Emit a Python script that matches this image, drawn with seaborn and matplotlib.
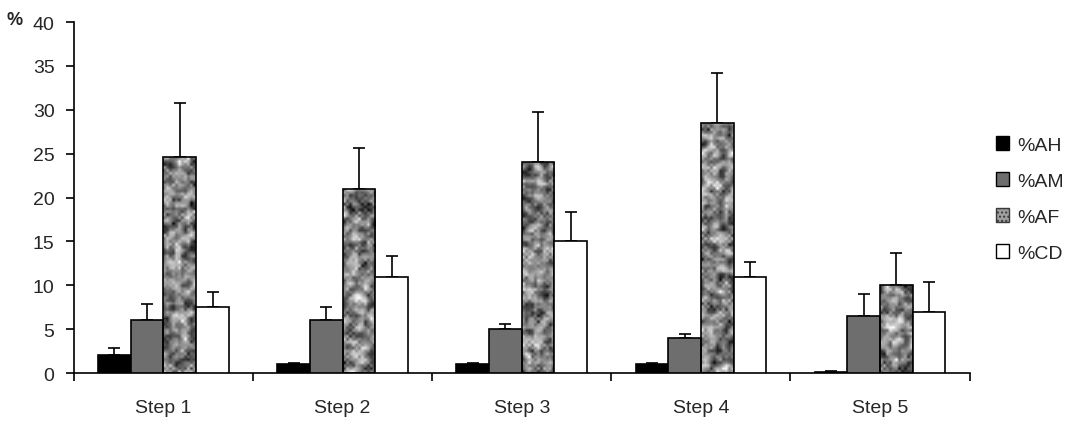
import numpy as np
import pandas as pd
import seaborn as sns
import matplotlib.pyplot as plt
from matplotlib.patches import Patch

# --------------------
# Data
# --------------------
STEPS = ["Step 1", "Step 2", "Step 3", "Step 4", "Step 5"]
SERIES = ["%AH", "%AM", "%AF", "%CD"]

AH = [2.1, 1.0, 1.0, 1.0, 0.15]
AM = [6.0, 6.0, 5.0, 4.0, 6.5]
AF = [24.6, 21.0, 24.0, 28.5, 10.0]
CD = [7.5, 11.0, 15.0, 11.0, 7.0]

AH_ERR = [0.8, 0.2, 0.2, 0.2, 0.05]
AM_ERR = [1.9, 1.5, 0.6, 0.5, 2.5]
AF_ERR = [6.2, 4.6, 5.8, 5.7, 3.7]
CD_ERR = [1.7, 2.3, 3.3, 1.7, 3.4]

COLORS = {"%AH": "#000000", "%AM": "#6e6e6e", "%AF": "#8c8c8c", "%CD": "#ffffff"}


def blotches(rng, ny, nx):
    # isotropic blurred noise, used only as a fill texture
    n = rng.random((ny, nx))
    out = n.copy()
    for dy, dx in [(1, 0), (-1, 0), (0, 1), (0, -1)]:
        out += np.roll(np.roll(n, dy, 0), dx, 1)
    return out / 5


# --------------------
# Main plotting logic
# --------------------
def main():
    sns.set_style("white")
    plt.rcParams["font.family"] = ["Liberation Sans", "DejaVu Sans"]

    values = [AH, AM, AF, CD]
    errors = [AH_ERR, AM_ERR, AF_ERR, CD_ERR]
    rows = []
    for name, vals, errs in zip(SERIES, values, errors):
        for step, v, e in zip(STEPS, vals, errs):
            rows.append({"step": step, "series": name, "value": v, "err": e})
    df = pd.DataFrame(rows)

    fig = plt.figure(figsize=(10.87, 4.27), dpi=100)
    ax = fig.add_axes([0.068, 0.124, 0.824, 0.822])

    sns.barplot(data=df, x="step", y="value", hue="series", order=STEPS,
                hue_order=SERIES, palette=COLORS, width=0.73, errorbar=None,
                edgecolor="black", linewidth=1.2, legend=False, ax=ax, zorder=3)

    # bars are stored hue-major: series 0 for all steps, then series 1...
    bars = [p for p in ax.patches][:len(df)]
    rng = np.random.default_rng(7)
    for i, bar in enumerate(bars):
        s = i // len(STEPS)
        k = i % len(STEPS)
        x0, w, h = bar.get_x(), bar.get_width(), bar.get_height()
        xc = x0 + w / 2
        ax.errorbar(xc, h, yerr=[[0], [errors[s][k]]], fmt="none",
                    ecolor="black", elinewidth=1.2, capsize=4.3,
                    capthick=1.2, zorder=2)
        if SERIES[s] == "%AF":
            ny = max(int(h * 3), 4)
            img = ax.imshow(blotches(rng, ny, 11), cmap="gray", vmin=0.15,
                            vmax=0.85, extent=(x0, x0 + w, 0, h), aspect="auto",
                            interpolation="bilinear", zorder=2.5)
            img.set_clip_path(bar)
            bar.set_facecolor("none")

    ax.set_xlim(-0.5, 4.5)
    ax.set_ylim(0, 40)
    ax.set_yticks(range(0, 41, 5))
    ax.set_xlabel("")
    ax.set_ylabel("")
    sns.despine(ax=ax)
    for sp in ["left", "bottom"]:
        ax.spines[sp].set_color("black")
        ax.spines[sp].set_linewidth(1.2)

    ax.set_xticks(np.arange(-0.5, 5, 1), minor=True)
    ax.tick_params(axis="x", which="major", length=0, pad=19, labelsize=14)
    ax.tick_params(axis="x", which="minor", length=6, width=1.2,
                   direction="out", bottom=True, color="black")
    ax.tick_params(axis="y", length=6, width=1.2, direction="out",
                   left=True, pad=8, labelsize=14, color="black")

    fig.text(0.006, 0.953, "%", fontsize=13, fontweight="bold", va="center")

    handles = [
        Patch(facecolor="#000000", edgecolor="black", label="%AH"),
        Patch(facecolor="#6e6e6e", edgecolor="black", label="%AM"),
        Patch(facecolor="#a0a0a0", edgecolor="#3a3a3a", hatch="....", label="%AF"),
        Patch(facecolor="#ffffff", edgecolor="black", label="%CD"),
    ]
    fig.legend(handles=handles, loc="center left", bbox_to_anchor=(0.909, 0.532),
               frameon=False, fontsize=14, handlelength=0.7, handleheight=0.7,
               handletextpad=0.4, labelspacing=0.95, borderaxespad=0)

    fig.savefig("out.png", dpi=100)
    plt.close(fig)


if __name__ == "__main__":
    main()
